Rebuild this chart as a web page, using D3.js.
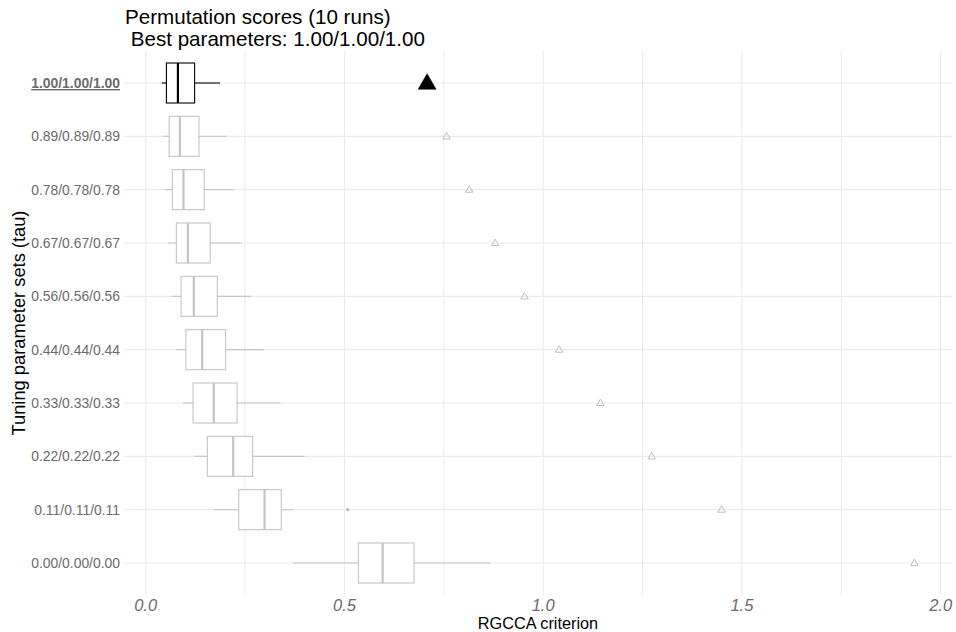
<!DOCTYPE html>
<html>
<head>
<meta charset="utf-8">
<script src="https://cdn.jsdelivr.net/npm/d3@7"></script>
<style>
  html, body { margin: 0; padding: 0; background: #fff; }
  svg { display: block; font-family: "Liberation Sans", Arial, sans-serif; }
</style>
</head>
<body>
<svg id="chart" width="956" height="632"></svg>
<script>
// ---- data ----
const categories = ["1.00/1.00/1.00","0.89/0.89/0.89","0.78/0.78/0.78","0.67/0.67/0.67","0.56/0.56/0.56",
                    "0.44/0.44/0.44","0.33/0.33/0.33","0.22/0.22/0.22","0.11/0.11/0.11","0.00/0.00/0.00"];
const whiskerLow  = [0.040, 0.044, 0.049, 0.056, 0.065, 0.076, 0.094, 0.122, 0.172, 0.370];
const q1          = [0.052, 0.059, 0.067, 0.077, 0.089, 0.101, 0.119, 0.155, 0.234, 0.535];
const median      = [0.081, 0.086, 0.095, 0.106, 0.121, 0.142, 0.171, 0.220, 0.299, 0.596];
const q3          = [0.123, 0.134, 0.147, 0.162, 0.180, 0.201, 0.230, 0.269, 0.341, 0.675];
const whiskerHigh = [0.187, 0.203, 0.220, 0.241, 0.265, 0.297, 0.339, 0.400, 0.372, 0.868];
const criterion   = [0.708, 0.757, 0.814, 0.879, 0.953, 1.040, 1.144, 1.273, 1.449, 1.934];
const outlierCat  = ["0.11/0.11/0.11"];
const outlierVal  = [0.508];
const bestSet = "1.00/1.00/1.00";
const xTicks = [0, 0.5, 1.0, 1.5, 2.0];
const xMinor = [0.25, 0.75, 1.25, 1.75];
const titleLines = ["Permutation scores (10 runs)", " Best parameters: 1.00/1.00/1.00"];
const xTitle = "RGCCA criterion";
const yTitle = "Tuning parameter sets (tau)";

// ---- layout ----
const panel = {left: 124, right: 952, top: 51, bottom: 595};
const svg = d3.select("#chart");

const allVals = whiskerLow.concat(whiskerHigh, criterion, outlierVal);
const dMin = d3.min(allVals), dMax = d3.max(allVals);
const ext = (dMax - dMin) * 0.05;
const x = d3.scaleLinear().domain([dMin - ext, dMax + ext]).range([panel.left, panel.right]);
const y = d3.scalePoint().domain(categories).range([panel.top, panel.bottom]).padding(0.6);

const grid = svg.append("g");
// vertical grid
grid.selectAll("line.minor").data(xMinor).join("line")
  .attr("x1", d => x(d)).attr("x2", d => x(d))
  .attr("y1", panel.top).attr("y2", panel.bottom)
  .attr("stroke", "#EBEBEB").attr("stroke-width", 1);
grid.selectAll("line.major").data(xTicks).join("line")
  .attr("x1", d => x(d)).attr("x2", d => x(d))
  .attr("y1", panel.top).attr("y2", panel.bottom)
  .attr("stroke", "#EBEBEB").attr("stroke-width", 1.1);
// horizontal grid
grid.selectAll("line.h").data(categories).join("line")
  .attr("x1", panel.left).attr("x2", panel.right)
  .attr("y1", d => y(d)).attr("y2", d => y(d))
  .attr("stroke", "#EBEBEB").attr("stroke-width", 1.1);

// ---- boxes ----
const boxH = y.step() * 0.75;
const rows = categories.map((c, i) => ({
  cat: c, lo: whiskerLow[i], q1: q1[i], med: median[i], q3: q3[i], hi: whiskerHigh[i], crit: criterion[i]
}));
const colOf = d => d.cat === bestSet ? "#000000" : "#C4C4C4";

const g = svg.append("g");
const rg = g.selectAll("g.row").data(rows).join("g");
rg.append("line")
  .attr("x1", d => x(d.lo)).attr("x2", d => x(d.q1))
  .attr("y1", d => y(d.cat)).attr("y2", d => y(d.cat))
  .attr("stroke", colOf).attr("stroke-width", 1.1);
rg.append("line")
  .attr("x1", d => x(d.q3)).attr("x2", d => x(d.hi))
  .attr("y1", d => y(d.cat)).attr("y2", d => y(d.cat))
  .attr("stroke", colOf).attr("stroke-width", 1.1);
rg.append("rect")
  .attr("x", d => x(d.q1)).attr("width", d => x(d.q3) - x(d.q1))
  .attr("y", d => y(d.cat) - boxH / 2).attr("height", boxH)
  .attr("fill", "#fff").attr("stroke", colOf).attr("stroke-width", 1.1);
rg.append("line")
  .attr("x1", d => x(d.med)).attr("x2", d => x(d.med))
  .attr("y1", d => y(d.cat) - boxH / 2).attr("y2", d => y(d.cat) + boxH / 2)
  .attr("stroke", colOf).attr("stroke-width", 2.2);

// outliers
g.selectAll("circle.out").data(outlierVal).join("circle")
  .attr("cx", d => x(d)).attr("cy", (d, i) => y(outlierCat[i]))
  .attr("r", 1.6).attr("fill", "#B8B8B8");

// criterion triangles
const tri = (cx, cy, s) => {
  const h = s * Math.sqrt(3) / 2;
  return `M${cx},${cy - h * 0.6}L${cx + s / 2},${cy + h * 0.4}L${cx - s / 2},${cy + h * 0.4}Z`;
};
g.selectAll("path.tri").data(rows).join("path")
  .attr("d", d => d.cat === bestSet ? tri(x(d.crit), y(d.cat), 18) : tri(x(d.crit), y(d.cat), 7.5))
  .attr("fill", d => d.cat === bestSet ? "#000" : "none")
  .attr("stroke", d => d.cat === bestSet ? "#000" : "#B8B8B8")
  .attr("stroke-width", d => d.cat === bestSet ? 0.5 : 0.9);

// ---- axes labels ----
svg.append("g").selectAll("text").data(categories).join("text")
  .attr("x", 120).attr("y", d => y(d))
  .attr("dy", "0.36em")
  .attr("text-anchor", "end")
  .attr("font-size", 13.9)
  .attr("fill", "#6B6B6B")
  .attr("font-weight", d => d === bestSet ? "bold" : "normal")
  .attr("text-decoration", d => d === bestSet ? "underline" : "none")
  .text(d => d);

svg.append("g").selectAll("text").data(xTicks).join("text")
  .attr("x", d => x(d)).attr("y", 611)
  .attr("text-anchor", "middle")
  .attr("font-size", 16.5)
  .attr("font-style", "italic")
  .attr("fill", "#6B6B6B")
  .text(d => d3.format(".1f")(d));

svg.append("text")
  .attr("x", (panel.left + panel.right) / 2).attr("y", 629)
  .attr("text-anchor", "middle").attr("font-size", 16.3).attr("fill", "#000")
  .text(xTitle);

svg.append("text")
  .attr("transform", `translate(25,${(panel.top + panel.bottom) / 2}) rotate(-90)`)
  .attr("text-anchor", "middle").attr("font-size", 18.3).attr("fill", "#000")
  .text(yTitle);

svg.append("g").selectAll("text").data(titleLines).join("text")
  .attr("x", 125).attr("y", (d, i) => 24 + i * 22)
  .attr("font-size", 20.6).attr("fill", "#000")
  .style("white-space", "pre")
  .text(d => d);
</script>
</body>
</html>
